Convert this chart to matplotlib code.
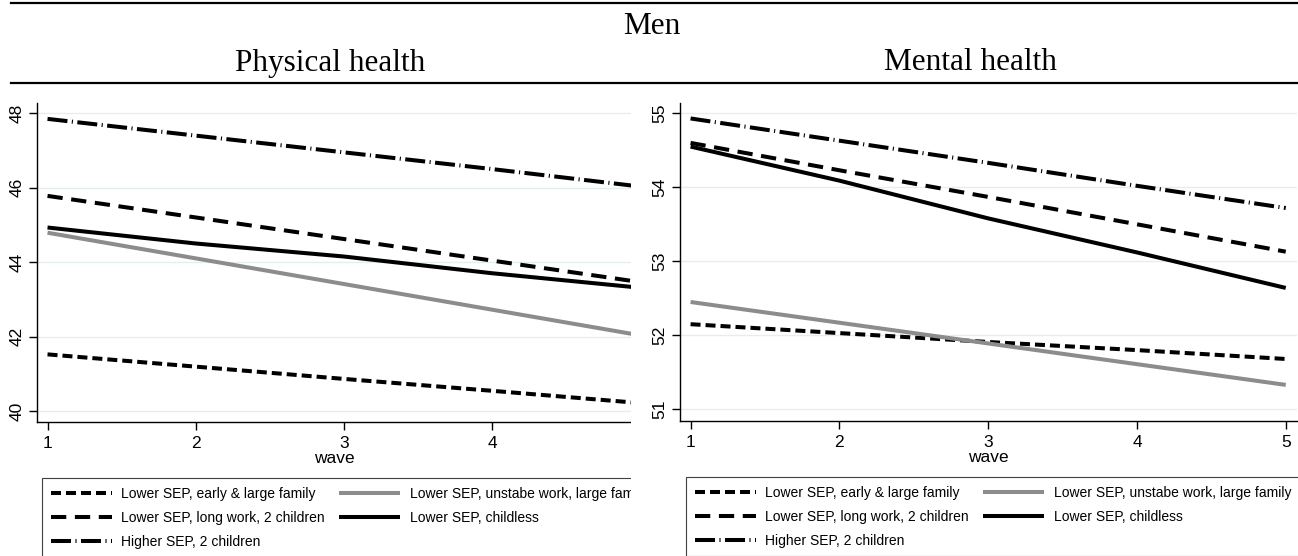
import matplotlib
matplotlib.use("Agg")
import matplotlib.pyplot as plt
from matplotlib.lines import Line2D
from matplotlib.patches import Rectangle

plt.rcParams['font.family'] = ['Liberation Sans', 'DejaVu Sans']
plt.rcParams['lines.scale_dashes'] = False

# ---- data ---------------------------------------------------------------
waves = [1, 2, 3, 4, 5]

labels = ["Lower SEP, early & large family",
          "Lower SEP, unstabe work, large family",
          "Lower SEP, long work, 2 children",
          "Lower SEP, childless",
          "Higher SEP, 2 children"]

phys_early = [41.52, 41.19, 40.86, 40.54, 40.21]
phys_unstable = [44.79, 44.10, 43.41, 42.72, 42.03]
phys_long = [45.78, 45.20, 44.62, 44.04, 43.46]
phys_childless = [44.93, 44.50, 44.15, 43.70, 43.31]
phys_higher = [47.85, 47.40, 46.95, 46.50, 46.03]

ment_early = [52.15, 52.03, 51.91, 51.80, 51.68]
ment_unstable = [52.45, 52.17, 51.89, 51.61, 51.33]
ment_long = [54.60, 54.23, 53.87, 53.50, 53.13]
ment_childless = [54.55, 54.09, 53.58, 53.12, 52.64]
ment_higher = [54.93, 54.63, 54.33, 54.02, 53.72]

phys_ticks = [40, 42, 44, 46, 48]
ment_ticks = [51, 52, 53, 54, 55]

# line styles (dashes in points)
styles = [dict(color='black', ls=(0, (7.2, 3.6))),
          dict(color='#8c8c8c', ls='-'),
          dict(color='black', ls=(0, (11, 6.2))),
          dict(color='black', ls='-'),
          dict(color='black', ls=(0, (14.4, 3.2, 0.8, 3.2)))]

W, H = 1298, 556
fig = plt.figure(figsize=(W / 100, H / 100), dpi=100)


def fx(px):
    return px / W


def fy(py):
    return 1 - py / H


ax1 = fig.add_axes([fx(37), fy(421.7), fx(631 - 37), (421.7 - 102.7) / H])
ax2 = fig.add_axes([fx(680), fy(420.7), fx(1296.6 - 680), (420.7 - 102.7) / H])
ax1.set_zorder(0)
ax2.set_zorder(1)


def draw_panel(ax, series, yticks, ylim, xlim, leg_xy):
    handles = []
    for vals, st in zip(series, styles):
        h, = ax.plot(waves, vals, lw=2.9, solid_capstyle='butt',
                     dash_capstyle='butt', **st)
        handles.append(h)
    ax.set_xlim(*xlim)
    ax.set_ylim(*ylim)
    ax.set_xticks([w for w in waves if w <= xlim[1]])
    ax.set_yticks(yticks)
    ax.yaxis.grid(True, color='#e4eef0', lw=1)
    ax.set_axisbelow(True)
    for s in ['top', 'right']:
        ax.spines[s].set_visible(False)
    for s in ['left', 'bottom']:
        ax.spines[s].set_linewidth(1)
    ax.tick_params(length=6, width=1, labelsize=12.5)
    ax.tick_params(axis='x', pad=4.5)
    ax.tick_params(axis='y', labelrotation=90, pad=3)
    for lb in ax.get_yticklabels():
        lb.set_va('center')
    ax.set_xlabel("wave", fontsize=12.5, labelpad=0)
    # legend order: column-major, as in the original
    order = [0, 2, 4, 1, 3]
    leg = ax.legend([handles[i] for i in order], [labels[i] for i in order],
                    ncol=2, loc='upper left', bbox_to_anchor=leg_xy,
                    bbox_transform=fig.transFigure, borderaxespad=0,
                    fontsize=10, handlelength=4.4, handletextpad=0.7,
                    columnspacing=1.0, borderpad=0.62, labelspacing=0.72,
                    fancybox=False, framealpha=1, edgecolor='#404040')
    leg.get_frame().set_linewidth(0.8)


draw_panel(ax1, [phys_early, phys_unstable, phys_long, phys_childless, phys_higher],
           phys_ticks, (39.71, 48.285), (0.929, 4.935), (fx(42), fy(478)))
draw_panel(ax2, [ment_early, ment_unstable, ment_long, ment_childless, ment_higher],
           ment_ticks, (50.846, 55.143), (0.929, 5.073), (fx(686), fy(477)))

# left graph is cut off by the right one
fig.add_artist(Rectangle((fx(631), 0), 1 - fx(631), fy(90), transform=fig.transFigure,
                         facecolor='white', edgecolor='none', zorder=0.5))

# header lines and titles
for py in [3, 83]:
    fig.add_artist(Line2D([fx(11), 1], [fy(py), fy(py)], transform=fig.transFigure,
                          color='black', lw=1.6, zorder=2))
serif = ['Liberation Serif', 'DejaVu Serif']
fig.text(fx(652), fy(27), "Men", ha='center', va='center', fontsize=22.5, family=serif)
fig.text(fx(330), fy(63), "Physical health", ha='center', va='center', fontsize=22.5, family=serif)
fig.text(fx(970), fy(63), "Mental health", ha='center', va='center', fontsize=22.5, family=serif)

fig.savefig("out.png", dpi=100, facecolor='white')
